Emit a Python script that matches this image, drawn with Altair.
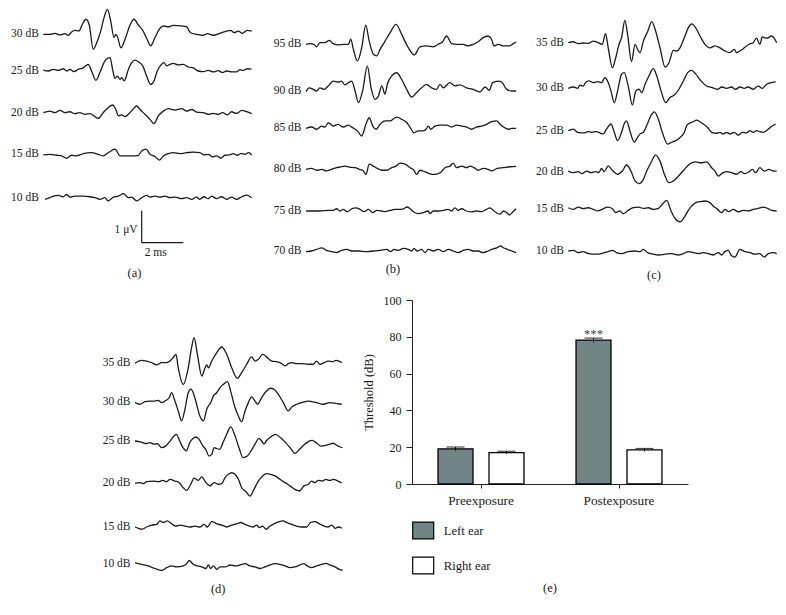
import altair as alt
import pandas as pd

FONT = "Liberation Serif"
INK = "#1a1a1a"
PX_PER_MS = 20.8
PX_PER_UV = 32.0

# ------------------------------------------------------------------
# Waveform data: (time in ms, amplitude in uV)
# ------------------------------------------------------------------
A_LEVELS = ["30 dB", "25 dB", "20 dB", "15 dB", "10 dB"]
A_30 = [(0,0),(0.32,0),(0.56,0.03),(0.80,-0.02),(1.04,0.02),(1.20,-0.03),(1.36,0.07),(1.52,0.125),(1.71,0.10),(1.89,0.33),(2.05,0.47),(2.21,0.29),(2.40,-0.47),(2.60,-0.21),(2.76,0.10),(2.92,0.52),(3.08,0.78),(3.24,0.42),(3.40,-0.10),(3.48,0),(3.56,-0.07),(3.73,-0.42),(3.96,-0.10),(4.17,0.29),(4.36,0.47),(4.57,0.29),(4.78,0.125),(4.97,-0.125),(5.16,-0.36),(5.37,-0.10),(5.64,0.21),(5.80,0.26),(6.01,0.23),(6.25,0.28),(6.65,0.26),(6.89,0.23),(7.08,0.05),(7.37,0),(7.69,-0.03),(7.88,0.02),(8.17,-0.03),(8.49,0.03),(8.81,0.10),(9.01,0.125),(9.17,0.05),(9.38,0.10),(9.57,0.03),(9.81,0.125),(10.02,0.10)]
A_25 = [(0,0.03),(0.24,0),(0.48,0.05),(0.72,0.02),(0.96,0.07),(1.12,0),(1.28,0.05),(1.47,-0.02),(1.68,0.05),(1.92,0.10),(2.16,0.21),(2.32,0),(2.53,-0.29),(2.72,-0.05),(2.88,0.21),(3.01,0.36),(3.21,0.42),(3.33,0.05),(3.45,-0.23),(3.56,-0.16),(3.69,-0.26),(3.77,-0.21),(3.89,-0.31),(4.09,0.05),(4.25,0.26),(4.41,0.34),(4.57,0.29),(4.78,0.16),(4.97,-0.16),(5.16,-0.42),(5.32,-0.31),(5.48,0),(5.66,0.19),(5.80,0.26),(5.93,0.16),(6.09,0.21),(6.25,0.24),(6.49,0.19),(6.73,0.21),(6.97,0.125),(7.21,0.10),(7.45,0),(7.69,-0.02),(7.93,0.02),(8.17,-0.03),(8.41,0.01),(8.62,-0.05),(8.81,0),(9.05,-0.03),(9.29,-0.03),(9.46,0.04),(9.62,0.02),(9.81,0.07),(10.01,0.06)]
A_20 = [(0,0),(0.32,0.05),(0.56,0),(0.80,0.07),(1.04,0),(1.28,0.03),(1.52,-0.03),(1.76,0),(2.00,-0.05),(2.24,-0.03),(2.44,-0.10),(2.64,-0.18),(2.88,0),(3.12,0.16),(3.33,0.24),(3.49,0.10),(3.61,-0.10),(3.77,-0.07),(3.93,-0.125),(4.09,-0.05),(4.30,0.10),(4.49,0.21),(4.65,0.10),(4.89,-0.05),(5.13,-0.21),(5.32,-0.34),(5.53,-0.10),(5.77,0.05),(6.01,0.125),(6.33,0.08),(6.65,0.125),(6.89,0.05),(7.13,0.10),(7.37,0.02),(7.69,0),(7.93,-0.05),(8.17,-0.02),(8.41,-0.05),(8.62,0),(8.85,-0.07),(9.05,0.03),(9.29,-0.02),(9.54,0.07),(9.78,0.03),(10.02,-0.03)]
A_15 = [(0,-0.02),(0.32,0),(0.64,-0.03),(0.88,-0.05),(1.12,-0.125),(1.36,-0.03),(1.60,-0.05),(1.92,0.02),(2.32,0.05),(2.64,0),(2.88,-0.05),(3.12,0.05),(3.45,0.16),(3.69,-0.05),(4.01,-0.05),(4.33,-0.05),(4.57,-0.03),(4.73,0.10),(4.94,0.16),(5.13,0),(5.37,-0.07),(5.58,-0.18),(5.77,-0.05),(6.01,0.02),(6.25,0.05),(6.57,0.02),(6.89,0.05),(7.21,0.07),(7.53,0.05),(7.72,-0.02),(7.93,0),(8.13,-0.08),(8.33,-0.05),(8.53,-0.125),(8.73,-0.03),(8.94,-0.02),(9.13,0.02),(9.33,-0.03),(9.49,0.02),(9.70,0),(9.86,0.05),(10.02,-0.02)]
A_10 = [(0.08,-0.05),(0.32,0),(0.48,0.05),(0.72,0.07),(0.96,0.03),(1.12,0.10),(1.28,0.02),(1.52,0.05),(1.92,0.05),(2.24,0.03),(2.48,0),(2.72,-0.05),(2.96,0),(3.12,-0.10),(3.37,0.02),(3.61,0.05),(3.85,0.125),(4.09,0),(4.25,0.02),(4.49,-0.10),(4.73,0),(4.97,0.07),(5.13,0.02),(5.37,0.05),(5.61,0.02),(5.85,0.05),(6.09,0),(6.33,0.02),(6.65,-0.03),(6.89,0),(7.13,-0.05),(7.37,0.02),(7.53,-0.05),(7.72,0.03),(7.93,-0.03),(8.09,0.05),(8.33,-0.03),(8.57,0.03),(8.81,-0.05),(9.05,0.02),(9.29,-0.05),(9.54,0.03),(9.78,0.08),(10.02,0)]

B_LEVELS = ["95 dB", "90 dB", "85 dB", "80 dB", "75 dB", "70 dB"]
B_95 = [(0,0),(0.19,0.02),(0.38,0),(0.51,-0.08),(0.67,0.05),(0.91,0.05),(1.12,0.125),(1.31,0.02),(1.55,-0.02),(1.79,0),(2.04,0),(2.15,0.16),(2.28,-0.16),(2.47,-0.52),(2.68,-0.10),(2.87,0.60),(3.04,0.10),(3.24,-0.31),(3.40,-0.36),(3.56,-0.16),(3.80,0.10),(4.04,0.36),(4.33,0.625),(4.60,0.31),(4.87,-0.05),(5.21,-0.33),(5.48,-0.08),(5.80,-0.05),(6.12,-0.08),(6.36,0),(6.57,0.08),(6.76,0.26),(7.00,0.02),(7.24,0),(7.56,0),(7.80,-0.05),(8.04,0),(8.28,0.08),(8.52,0.21),(8.76,0.26),(8.92,0.16),(9.04,-0.05),(9.25,0),(9.49,-0.05),(9.78,-0.05),(9.97,0.02),(10.10,0.07)]
B_90 = [(0,-0.02),(0.16,0.10),(0.35,0.05),(0.51,0),(0.67,0.10),(0.87,0.05),(1.07,0.16),(1.31,0.31),(1.55,0.28),(1.71,0.31),(1.87,0.19),(2.04,0.26),(2.20,0.31),(2.36,0),(2.52,-0.36),(2.72,0),(2.95,0.78),(3.13,0.10),(3.32,-0.26),(3.48,-0.16),(3.64,0.16),(3.80,-0.10),(3.91,0.21),(4.12,0.47),(4.36,0.57),(4.60,0.36),(4.84,0.05),(5.08,-0.19),(5.32,-0.05),(5.56,0.10),(5.80,0.21),(6.04,0.10),(6.28,0.05),(6.44,0.21),(6.60,0.10),(6.92,0.26),(7.16,0.16),(7.40,0.19),(7.72,0.10),(8.04,0.05),(8.37,-0.03),(8.61,0.125),(8.81,0.02),(8.97,0.26),(9.25,0.31),(9.41,0.28),(9.65,0.05),(9.89,0),(10.10,0)]
B_85 = [(0,0),(0.27,0.04),(0.51,-0.03),(0.75,0.07),(0.91,0.04),(1.07,0.18),(1.31,0.07),(1.55,0.125),(1.79,0.04),(2.04,0.10),(2.24,0.02),(2.47,-0.08),(2.68,-0.24),(2.88,0.125),(3.04,0.33),(3.21,0.07),(3.37,-0.03),(3.56,0.125),(3.80,0.23),(4.04,0.23),(4.28,0.33),(4.39,0.35),(4.60,0.28),(4.84,0.18),(5.00,0.04),(5.19,-0.14),(5.40,-0.08),(5.64,-0.08),(5.77,-0.03),(5.88,0.07),(6.00,-0.03),(6.20,0.07),(6.44,0.10),(6.76,0.10),(7.00,0.04),(7.24,0.10),(7.48,0.07),(7.72,0.04),(7.96,-0.03),(8.20,0.04),(8.44,0.07),(8.68,0.125),(8.92,0.21),(9.17,0.23),(9.33,0.125),(9.49,0.04),(9.73,-0.03),(9.89,0),(10.10,0)]
B_80 = [(0,0),(0.27,0.03),(0.51,-0.03),(0.75,0),(0.99,-0.05),(1.23,0),(1.47,0.05),(1.63,0.07),(1.87,0.10),(2.08,0.07),(2.36,0.05),(2.56,0),(2.76,-0.05),(2.88,-0.16),(3.04,0.16),(3.24,0.10),(3.43,0.03),(3.64,-0.03),(3.88,-0.03),(4.12,0.05),(4.33,0.10),(4.52,0.19),(4.76,0.16),(5.00,0.05),(5.19,-0.03),(5.32,-0.16),(5.48,-0.03),(5.72,-0.08),(5.96,-0.14),(6.20,-0.16),(6.47,-0.10),(6.68,0.05),(6.92,0.10),(7.08,0.19),(7.24,0.05),(7.48,0.10),(7.72,0.05),(7.88,0.10),(8.08,0.05),(8.28,-0.03),(8.52,0.03),(8.76,0),(8.92,-0.05),(9.17,0.02),(9.49,0.05),(9.81,0.08),(10.10,0.09)]
B_75 = [(0,0),(0.35,0),(0.67,0),(1.07,0.02),(1.31,0.02),(1.47,0.07),(1.63,0),(1.79,0.05),(1.99,-0.02),(2.20,0.07),(2.40,0.10),(2.60,0.05),(2.79,-0.02),(3.00,0.05),(3.21,-0.05),(3.40,0.02),(3.64,0),(3.80,-0.02),(4.04,0.02),(4.28,0.05),(4.52,0.05),(4.68,0.07),(4.87,0.125),(5.00,0.07),(5.19,-0.03),(5.40,-0.08),(5.64,-0.05),(5.88,0),(5.96,-0.08),(6.12,0),(6.36,0),(6.60,0.02),(6.84,0.05),(7.00,0),(7.16,0.10),(7.32,0.02),(7.48,0.07),(7.72,0),(7.96,-0.03),(8.20,0),(8.44,-0.02),(8.68,0.05),(8.84,0.10),(9.04,0),(9.33,-0.10),(9.49,0),(9.65,-0.05),(9.78,-0.125),(9.94,-0.03),(10.10,0.07)]
B_70 = [(0,-0.02),(0.27,0),(0.51,0.05),(0.75,0.10),(0.99,0.02),(1.23,-0.02),(1.47,-0.05),(1.71,0.02),(1.95,0.05),(2.20,0),(2.52,0),(2.92,-0.02),(3.24,0),(3.56,0.02),(3.88,0.05),(4.07,-0.02),(4.23,0.05),(4.44,0.02),(4.68,0.08),(4.92,0.05),(5.08,0),(5.19,0.08),(5.35,0),(5.56,0.05),(5.72,-0.05),(5.88,0.05),(6.12,0),(6.36,0.05),(6.60,-0.02),(6.84,0.05),(7.08,0),(7.32,-0.05),(7.56,0.02),(7.80,0.05),(8.04,0),(8.28,0),(8.52,-0.05),(8.76,0),(8.92,0.05),(9.17,0.10),(9.36,0.16),(9.49,0.10),(9.68,0.05),(9.89,0),(10.10,-0.05)]

C_LEVELS = ["35 dB", "30 dB", "25 dB", "20 dB", "15 dB", "10 dB"]
C_35 = [(0,0),(0.24,0.03),(0.48,-0.03),(0.72,-0.01),(0.96,-0.02),(1.20,0.05),(1.44,0),(1.63,-0.05),(1.79,0.28),(1.92,-0.16),(2.12,-0.78),(2.28,-0.47),(2.44,-0.05),(2.56,0.16),(2.72,0.70),(2.85,0.26),(3.04,-0.59),(3.21,-0.05),(3.33,-0.21),(3.45,-0.31),(3.61,0.05),(3.82,0.36),(4.01,0.66),(4.20,0.36),(4.41,-0.16),(4.65,-0.76),(4.84,-0.625),(5.05,-0.24),(5.21,-0.26),(5.37,-0.16),(5.58,0.16),(5.77,0.47),(5.93,0.59),(6.12,0.47),(6.33,0.21),(6.57,-0.05),(6.81,-0.16),(7.05,-0.10),(7.29,-0.16),(7.53,-0.26),(7.77,-0.31),(7.98,-0.21),(8.09,-0.31),(8.25,-0.26),(8.46,-0.16),(8.69,-0.05),(8.89,0),(9.05,0.14),(9.21,-0.05),(9.33,0.18),(9.54,0.14),(9.78,0.21),(10.02,0)]
C_30 = [(0,0),(0.24,0.04),(0.45,0),(0.56,0.10),(0.72,0.07),(0.83,0.18),(0.99,0.23),(1.20,0.18),(1.41,0.21),(1.60,0.18),(1.76,0.33),(1.92,0.18),(2.05,-0.08),(2.21,-0.45),(2.37,-0.08),(2.56,0.44),(2.69,0.49),(2.88,0.07),(3.08,-0.52),(3.25,-0.08),(3.40,-0.03),(3.53,-0.14),(3.69,0.125),(3.88,0.39),(4.09,0.615),(4.25,0.39),(4.46,-0.08),(4.68,-0.45),(4.89,-0.29),(5.13,-0.19),(5.32,-0.03),(5.53,0.23),(5.74,0.49),(5.93,0.56),(6.12,0.45),(6.38,0.23),(6.65,0.07),(6.92,0.02),(7.18,-0.03),(7.37,0.04),(7.61,0),(7.85,0.04),(8.04,-0.03),(8.25,0.04),(8.46,0),(8.65,0.04),(8.89,-0.03),(9.13,0.07),(9.33,0),(9.54,0.125),(9.78,0.18),(9.97,0.20)]
C_25 = [(0,0),(0.24,0.05),(0.45,-0.05),(0.72,-0.07),(0.96,-0.03),(1.12,-0.05),(1.36,-0.03),(1.52,-0.07),(1.68,-0.10),(1.84,0.05),(2.05,0.21),(2.21,-0.05),(2.37,-0.31),(2.56,-0.05),(2.72,0.26),(2.80,0.31),(2.96,0),(3.17,-0.36),(3.33,-0.21),(3.45,-0.10),(3.61,-0.05),(3.77,0.16),(3.97,0.47),(4.14,0.59),(4.33,0.36),(4.52,-0.05),(4.78,-0.42),(4.97,-0.36),(5.16,-0.31),(5.37,-0.21),(5.58,-0.05),(5.69,0.16),(5.85,0.24),(6.01,0.28),(6.17,0.33),(6.33,0.28),(6.49,0.21),(6.70,0.10),(6.89,-0.05),(7.13,-0.08),(7.29,-0.05),(7.45,-0.10),(7.61,-0.05),(7.77,-0.10),(7.98,-0.05),(8.17,-0.14),(8.36,-0.05),(8.57,-0.07),(8.73,0),(8.89,-0.05),(9.05,0),(9.21,-0.03),(9.37,-0.05),(9.58,0.03),(9.78,0.14),(9.97,0.21)]
C_20 = [(0,0.02),(0.24,-0.03),(0.48,0),(0.67,-0.06),(0.88,0.02),(1.09,-0.03),(1.31,0),(1.47,-0.03),(1.60,0.10),(1.73,0),(1.92,0.18),(2.12,0.04),(2.37,-0.08),(2.60,0.02),(2.80,0.21),(3.01,0.02),(3.21,-0.29),(3.40,-0.375),(3.61,-0.24),(3.77,0.02),(3.97,0.28),(4.20,0.52),(4.41,0.33),(4.62,-0.08),(4.84,-0.34),(5.05,-0.29),(5.29,-0.14),(5.58,0.07),(5.85,0.25),(6.12,0.31),(6.38,0.28),(6.65,0.31),(6.89,0.125),(7.05,0.02),(7.21,-0.14),(7.37,-0.06),(7.61,0),(7.85,-0.03),(8.09,-0.08),(8.30,0),(8.49,-0.06),(8.69,0),(8.85,0.07),(9.01,-0.03),(9.21,0.125),(9.42,0.02),(9.65,0.07),(9.86,0.02),(10.02,0.02)]
C_15 = [(0,0.03),(0.24,-0.02),(0.48,0.05),(0.72,0),(0.96,0.03),(1.20,-0.02),(1.41,-0.07),(1.63,-0.02),(1.89,0.05),(2.12,0),(2.28,-0.125),(2.48,-0.07),(2.64,-0.16),(2.88,-0.05),(3.12,0.03),(3.37,0.05),(3.61,0.01),(3.85,0.03),(4.09,-0.02),(4.33,0.01),(4.49,0.115),(4.73,0.26),(4.94,-0.07),(5.13,-0.30),(5.37,-0.41),(5.58,-0.26),(5.77,-0.05),(5.93,0.08),(6.12,0.19),(6.33,0.22),(6.57,0.24),(6.81,0.19),(6.97,0.08),(7.13,0.01),(7.37,-0.125),(7.53,-0.02),(7.72,-0.09),(7.93,-0.02),(8.17,-0.10),(8.41,-0.05),(8.65,-0.07),(8.89,-0.02),(9.13,0.01),(9.38,0.05),(9.58,0.01),(9.78,-0.05),(10.02,-0.07)]
C_10 = [(0,0),(0.24,0.02),(0.48,-0.05),(0.72,-0.02),(0.96,-0.08),(1.28,-0.10),(1.60,-0.08),(1.92,-0.02),(2.12,0.02),(2.32,-0.05),(2.56,-0.08),(2.88,-0.02),(3.21,0),(3.45,-0.02),(3.61,0.05),(3.81,-0.05),(4.09,-0.10),(4.33,-0.125),(4.65,-0.10),(4.97,-0.08),(5.29,-0.125),(5.53,-0.08),(5.77,-0.02),(6.01,-0.05),(6.25,-0.08),(6.49,-0.05),(6.73,-0.08),(6.97,-0.125),(7.21,-0.05),(7.37,-0.125),(7.53,-0.02),(7.69,0.02),(7.82,-0.125),(8.01,-0.19),(8.25,0.05),(8.49,-0.02),(8.73,-0.05),(8.97,-0.10),(9.21,-0.08),(9.42,-0.19),(9.62,-0.08),(9.86,-0.05),(10.02,-0.08)]

D_LEVELS = ["35 dB", "30 dB", "25 dB", "20 dB", "15 dB", "10 dB"]
D_35 = [(0,0),(0.32,0.09),(0.56,0.07),(0.80,0.02),(1.04,-0.05),(1.28,0.02),(1.52,0.02),(1.68,0.07),(1.84,0.18),(1.97,0.28),(2.08,-0.14),(2.32,-0.66),(2.56,-0.14),(2.72,0.49),(2.84,0.80),(3.00,0.28),(3.21,-0.40),(3.37,-0.14),(3.45,-0.05),(3.53,-0.14),(3.69,0.07),(3.93,0.33),(4.17,0.51),(4.41,0.28),(4.65,-0.14),(4.92,-0.47),(5.13,-0.29),(5.37,-0.03),(5.61,0.20),(5.77,0.07),(5.93,0.125),(6.14,0.28),(6.33,0.20),(6.57,0.07),(6.81,0.05),(7.05,-0.01),(7.21,-0.08),(7.37,-0.01),(7.53,0.02),(7.77,-0.01),(8.01,-0.01),(8.33,-0.03),(8.57,-0.03),(8.73,0.07),(8.89,-0.03),(9.09,0.02),(9.29,0.07),(9.50,0.05),(9.66,0.09),(9.94,0.02)]
D_30 = [(0,-0.02),(0.24,-0.07),(0.48,0.01),(0.72,0.03),(0.96,0.03),(1.12,0.05),(1.28,-0.02),(1.44,0.03),(1.65,0.14),(1.76,0.29),(1.92,0.03),(2.08,-0.28),(2.24,-0.59),(2.40,-0.23),(2.56,0.29),(2.68,0.40),(2.80,0.29),(2.96,-0.07),(3.12,-0.44),(3.29,-0.59),(3.45,-0.23),(3.53,-0.125),(3.64,-0.02),(3.77,0.19),(3.93,0.29),(4.09,0.45),(4.25,0.55),(4.44,0.635),(4.60,0.34),(4.76,-0.07),(4.97,-0.44),(5.13,-0.615),(5.29,-0.28),(5.45,-0.02),(5.61,0.16),(5.77,0.03),(5.90,-0.07),(6.04,0.08),(6.25,0.29),(6.52,0.43),(6.68,0.40),(6.89,0.24),(7.13,-0.02),(7.37,-0.28),(7.53,-0.16),(7.77,-0.07),(8.01,-0.02),(8.33,0.03),(8.73,-0.02),(9.05,-0.07),(9.37,-0.02),(9.70,-0.05),(9.94,-0.07)]
D_25 = [(0,0),(0.27,-0.03),(0.51,-0.08),(0.71,-0.05),(0.91,-0.10),(1.07,-0.08),(1.28,-0.21),(1.47,-0.16),(1.67,-0.02),(1.88,0.16),(1.99,0.21),(2.15,0),(2.31,-0.21),(2.47,-0.31),(2.63,-0.05),(2.79,0.08),(2.92,0.125),(3.08,0.05),(3.27,-0.16),(3.40,-0.26),(3.56,-0.47),(3.69,-0.42),(3.80,-0.21),(3.91,-0.23),(4.07,-0.26),(4.23,-0.05),(4.44,0.26),(4.60,0.44),(4.81,0.16),(5.00,-0.21),(5.19,-0.52),(5.40,-0.47),(5.56,-0.33),(5.77,-0.10),(5.96,0.08),(6.09,0),(6.20,-0.10),(6.31,0),(6.52,0.125),(6.76,0.21),(7.00,0.10),(7.24,-0.05),(7.48,-0.23),(7.69,-0.39),(7.91,-0.26),(8.12,-0.125),(8.33,-0.02),(8.52,0.02),(8.71,-0.05),(8.92,-0.16),(9.17,-0.14),(9.36,-0.10),(9.52,-0.07),(9.68,-0.125),(9.84,-0.18),(9.97,-0.21)]
D_20 = [(0,0),(0.24,0.02),(0.40,-0.01),(0.56,0.05),(0.88,0.07),(1.12,0.05),(1.33,0.09),(1.52,0.05),(1.68,0.125),(1.92,0.07),(2.13,0.02),(2.32,-0.14),(2.48,-0.22),(2.68,-0.03),(2.84,0.16),(3.04,0.09),(3.21,0.20),(3.41,0.02),(3.61,-0.08),(3.80,0.02),(4.01,-0.03),(4.17,-0.01),(4.33,0.18),(4.49,0.28),(4.65,0.33),(4.81,0.28),(4.97,0.125),(5.13,-0.14),(5.34,-0.26),(5.53,-0.40),(5.72,-0.19),(5.93,0.07),(6.14,0.23),(6.30,0.30),(6.52,0.28),(6.73,0.23),(6.97,0.125),(7.21,0.02),(7.45,-0.08),(7.69,-0.19),(7.90,-0.24),(8.12,-0.08),(8.33,-0.03),(8.49,0.07),(8.65,0.02),(8.81,0.09),(9.01,0.07),(9.17,0.125),(9.36,0.09),(9.55,0.125),(9.76,0.07),(9.94,0.02)]
D_15 = [(0,0),(0.16,-0.04),(0.32,-0.07),(0.56,0),(0.80,0.06),(1.04,0.08),(1.20,0.19),(1.36,0.14),(1.55,0.19),(1.76,0.10),(1.97,0.03),(2.16,0.06),(2.40,0.03),(2.64,0),(2.88,0.03),(3.13,0),(3.32,0.08),(3.48,0),(3.69,0.17),(3.93,0.10),(4.17,0.06),(4.41,0),(4.65,0.06),(4.89,0.10),(5.08,0.14),(5.29,0.08),(5.50,0.03),(5.69,0),(5.85,0.06),(5.98,-0.02),(6.14,0.03),(6.30,-0.07),(6.49,0.03),(6.68,0.10),(6.94,0.17),(7.13,0.19),(7.29,0.14),(7.53,0.08),(7.77,0.03),(8.01,0),(8.25,0),(8.44,0.14),(8.65,0.17),(8.86,0.10),(9.09,0.03),(9.29,0),(9.46,0.06),(9.62,-0.04),(9.78,0),(9.94,-0.04)]
D_10 = [(0,0.03),(0.32,-0.02),(0.64,-0.07),(0.96,-0.15),(1.28,-0.21),(1.52,-0.125),(1.76,-0.07),(2.00,-0.10),(2.32,-0.07),(2.48,0),(2.61,0.10),(2.77,0),(3.00,-0.07),(3.21,-0.10),(3.41,-0.15),(3.53,-0.04),(3.64,-0.15),(3.77,-0.07),(3.93,-0.18),(4.09,-0.10),(4.33,-0.10),(4.57,-0.04),(4.81,-0.07),(5.05,-0.04),(5.29,0),(5.53,-0.07),(5.77,-0.10),(6.01,-0.15),(6.25,-0.10),(6.49,-0.04),(6.73,0),(6.97,-0.02),(7.21,-0.07),(7.45,-0.125),(7.69,-0.10),(7.93,-0.04),(8.12,0),(8.28,-0.07),(8.49,-0.125),(8.73,-0.07),(8.97,-0.02),(9.18,0.01),(9.38,-0.04),(9.62,-0.10),(9.83,-0.18),(9.99,-0.21)]

SCALE_BAR_UV = 1
SCALE_BAR_MS = 2

# ------------------------------------------------------------------
# Threshold bar chart data
# ------------------------------------------------------------------
PHASES = ["Preexposure", "Postexposure"]
EARS = ["Left ear", "Right ear"]
THRESH_LEFT = [19.1, 78.2]
THRESH_RIGHT = [17.1, 18.5]
SEM_LEFT = [1.0, 1.1]
SEM_RIGHT = [0.7, 0.8]
SIG_MARK = "***"


# ------------------------------------------------------------------
def wave_panel(levels, traces, rows_px, width, height, lead_px, caption,
               caption_ms, caption_px, scale_bar=None):
    x_dom = [-lead_px / PX_PER_MS, (width - lead_px) / PX_PER_MS]
    y_dom = [-height / PX_PER_UV, 0]
    offs = [-r / PX_PER_UV for r in rows_px]
    recs = []
    for lev, tr, off in zip(levels, traces, offs):
        for k, (t, v) in enumerate(tr):
            recs.append({"level": lev, "k": k, "t": t, "y": v + off})
    df = pd.DataFrame(recs)
    xs = alt.Scale(domain=x_dom, nice=False, zero=False)
    ys = alt.Scale(domain=y_dom, nice=False, zero=False)

    def X(f):
        return alt.X(f + ":Q", scale=xs, axis=None)

    def Y(f):
        return alt.Y(f + ":Q", scale=ys, axis=None)

    lines = alt.Chart(df).mark_line(color=INK, strokeWidth=1.3, strokeJoin="round",
                                    interpolate="monotone").encode(
        x=X("t"), y=Y("y"), detail="level:N", order="k:Q")
    lab_df = pd.DataFrame({"level": levels, "t": [0.0] * len(levels), "y": offs})
    labels = alt.Chart(lab_df).mark_text(
        align="right", baseline="middle", dx=-4.5, font=FONT, fontSize=11.5, color=INK
    ).encode(x=X("t"), y=Y("y"), text="level:N")
    cap_df = pd.DataFrame({"c": [caption], "t": [caption_ms], "y": [-caption_px / PX_PER_UV]})
    cap = alt.Chart(cap_df).mark_text(
        align="center", baseline="middle", font=FONT, fontSize=12.5, color=INK
    ).encode(x=X("t"), y=Y("y"), text="c:N")
    layers = [lines, labels, cap]
    if scale_bar is not None:
        t0, ybot_px = scale_bar
        yb = -ybot_px / PX_PER_UV
        v_df = pd.DataFrame({"t": [t0], "y": [yb], "y2": [yb + SCALE_BAR_UV]})
        h_df = pd.DataFrame({"t": [t0], "t2": [t0 + SCALE_BAR_MS], "y": [yb]})
        vbar = alt.Chart(v_df).mark_rule(color=INK, strokeWidth=1.2).encode(
            x=X("t"), y=Y("y"), y2="y2:Q")
        hbar = alt.Chart(h_df).mark_rule(color=INK, strokeWidth=1.2).encode(
            x=X("t"), x2="t2:Q", y=Y("y"))
        uv_df = pd.DataFrame({"s": [f"{SCALE_BAR_UV} μV"], "t": [t0], "y": [yb + 0.4 * SCALE_BAR_UV]})
        ms_df = pd.DataFrame({"s": [f"{SCALE_BAR_MS} ms"], "t": [t0], "y": [yb]})
        uv_txt = alt.Chart(uv_df).mark_text(
            align="right", baseline="middle", dx=-4, font=FONT, fontSize=11.5, color=INK
        ).encode(x=X("t"), y=Y("y"), text="s:N")
        ms_txt = alt.Chart(ms_df).mark_text(
            align="left", baseline="top", dx=3, dy=4, font=FONT, fontSize=11.5, color=INK
        ).encode(x=X("t"), y=Y("y"), text="s:N")
        layers += [vbar, hbar, uv_txt, ms_txt]
    return alt.layer(*layers).properties(width=width, height=height)


panel_a = wave_panel(A_LEVELS, [A_30, A_25, A_20, A_15, A_10],
                     [25.3, 62, 103.7, 145.3, 188.7], 260, 285, 35.3,
                     "(a)", 4.38, 264, scale_bar=(4.73, 233.7))
panel_b = wave_panel(B_LEVELS, [B_95, B_90, B_85, B_80, B_75, B_70],
                     [35.3, 82, 119.3, 160.3, 202, 242], 262, 285, 38,
                     "(b)", 4.18, 260)
panel_c = wave_panel(C_LEVELS, [C_35, C_30, C_25, C_20, C_15, C_10],
                     [33.7, 79.3, 121.7, 162.7, 199.7, 242], 248, 285, 38.3,
                     "(c)", 4.12, 266)
panel_d = wave_panel(D_LEVELS, [D_35, D_30, D_25, D_20, D_15, D_10],
                     [63.3, 102, 141, 183.3, 227, 263.7], 345, 296, 127,
                     "(d)", 4.0, 289)

# ------------------------------------------------------------------
bars_df = pd.DataFrame({
    "phase": PHASES + PHASES,
    "ear": [EARS[0]] * 2 + [EARS[1]] * 2,
    "value": THRESH_LEFT + THRESH_RIGHT,
    "sem": SEM_LEFT + SEM_RIGHT,
})
bars_df["lo"] = bars_df["value"] - bars_df["sem"]
bars_df["hi"] = bars_df["value"] + bars_df["sem"]
sig_df = bars_df[(bars_df["phase"] == "Postexposure") & (bars_df["ear"] == "Left ear")].copy()
sig_df["mark"] = SIG_MARK

x_enc = alt.X("phase:N", sort=PHASES,
              scale=alt.Scale(paddingInner=0.2, paddingOuter=0.1),
              axis=alt.Axis(title=None, labelAngle=0, tickSize=4, labelPadding=5,
                            labelFontSize=13.3, labelFont=FONT, labelColor=INK,
                            domainColor="#222", tickColor="#222"))
xo_enc = alt.XOffset("ear:N", sort=EARS,
                     scale=alt.Scale(paddingInner=0.314, paddingOuter=0.24))
y_axis = alt.Axis(values=[0, 20, 40, 60, 80, 100], tickSize=6, labelPadding=5,
                  labelFontSize=12, labelFont=FONT, labelColor=INK, grid=False,
                  title="Threshold (dB)", titleFont=FONT, titleFontSize=12.5,
                  titleFontWeight="normal", titleColor=INK, titlePadding=8,
                  domainColor="#222", tickColor="#222")
y_scale = alt.Scale(domain=[0, 100], nice=False)

base = alt.Chart(bars_df).encode(x=x_enc, xOffset=xo_enc)
bars = base.mark_bar(stroke="black", strokeWidth=1.3).encode(
    y=alt.Y("value:Q", scale=y_scale, axis=y_axis),
    color=alt.Color("ear:N", sort=EARS,
                    scale=alt.Scale(domain=EARS, range=["#718584", "#ffffff"]),
                    legend=alt.Legend(title=None, orient="none", legendX=403.7, legendY=510,
                                      direction="vertical", padding=0,
                                      symbolType="M-1,-0.8H1V0.8H-1Z", symbolSize=441,
                                      symbolStrokeColor="black", symbolStrokeWidth=1.2,
                                      symbolOpacity=1, labelFont=FONT, labelFontSize=12.7,
                                      labelColor=INK, labelOffset=9, rowPadding=12)))
err = base.mark_rule(color="black", strokeWidth=1).encode(
    y=alt.Y("lo:Q", scale=y_scale, axis=y_axis), y2="hi:Q")
caps = base.mark_tick(color="black", thickness=1.2, size=18).encode(
    y=alt.Y("hi:Q", scale=y_scale, axis=y_axis))
stars = alt.Chart(sig_df).mark_text(
    baseline="alphabetic", font=FONT, fontSize=12.7, color="#444"
).encode(x=x_enc, xOffset=xo_enc, y=alt.Y("hi:Q", scale=y_scale, axis=y_axis), text="mark:N")

panel_e = alt.layer(bars, err, caps, stars).properties(
    width=276, height=184,
    title=alt.TitleParams("(e)", orient="bottom", anchor="middle", font=FONT,
                          fontSize=12.5, fontWeight="normal", color=INK, offset=76))

top = alt.hconcat(panel_a, panel_b, panel_c, spacing=0)
bottom = alt.hconcat(panel_d, panel_e, spacing=9)

chart = alt.vconcat(top, bottom, spacing=0).properties(
    padding=0, background="white"
).configure_view(stroke=None)

chart.save("out.html", embed_options={"renderer": "svg", "actions": False})
